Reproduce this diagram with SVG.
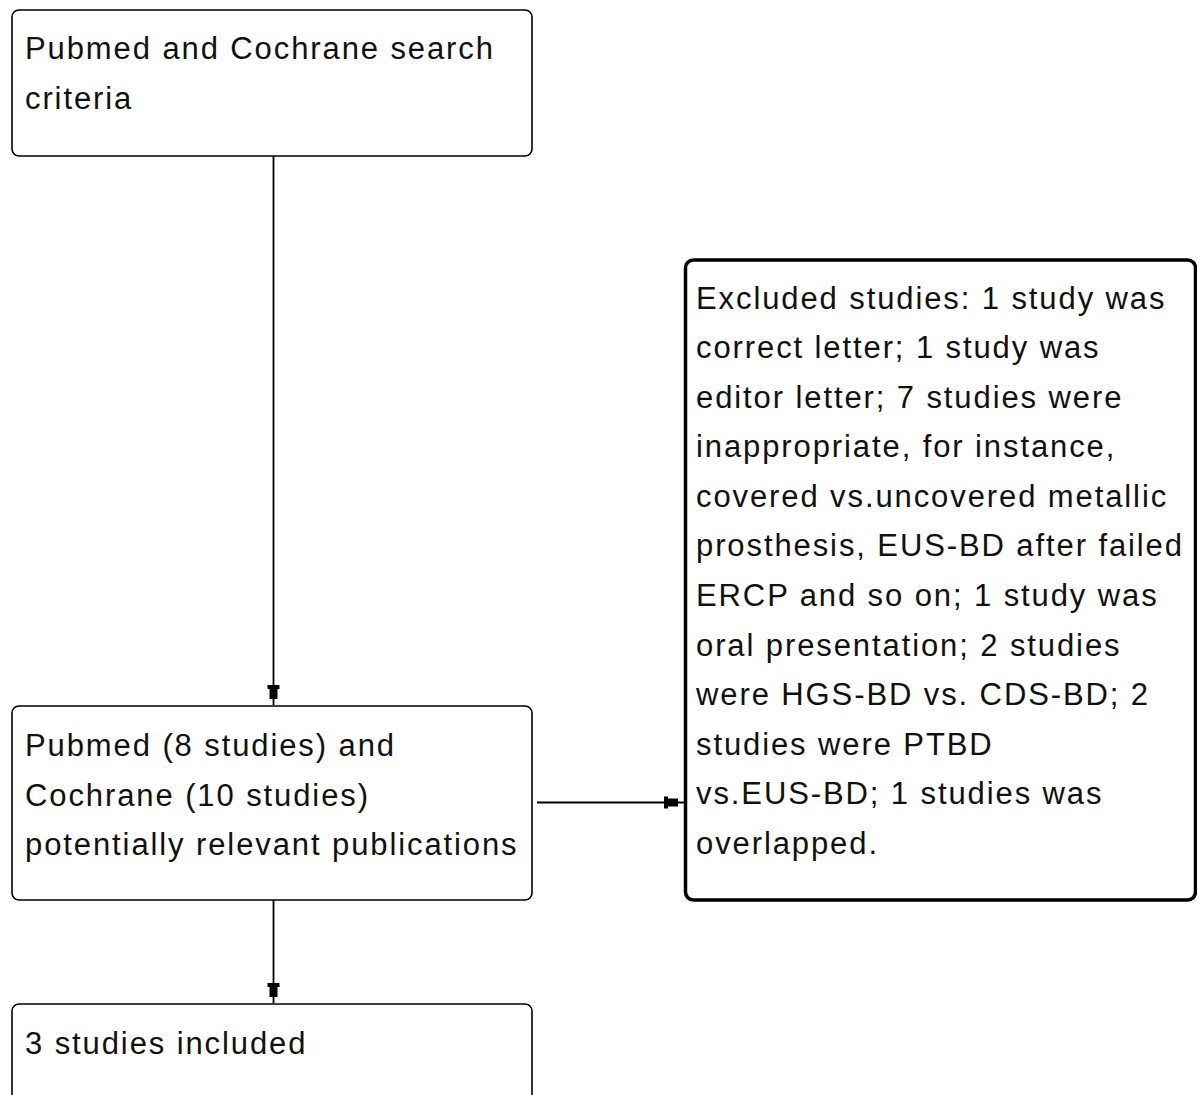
<svg xmlns="http://www.w3.org/2000/svg" width="1197" height="1095" viewBox="0 0 1197 1095">
<defs>
<marker id="arr" markerUnits="userSpaceOnUse" markerWidth="24" markerHeight="16" viewBox="-22 -8 24 16" refX="0" refY="0" orient="auto">
<path d="M-20,-6 L-16,-6 L-16,-4 L-6,-4 L-6,4 L-16,4 L-16,6 L-20,6 Z" fill="#000"/>
</marker>
<style>
.box{fill:#fff;stroke:#000;stroke-width:1.6}
.bold{fill:#fff;stroke:#000;stroke-width:3.5}
.t{font-family:"Liberation Sans",Arial,sans-serif;font-size:31px;letter-spacing:1.9px;fill:#111}
.c{stroke:#000;stroke-width:1.8;fill:none}
</style>
</defs>
<rect width="1197" height="1095" fill="#fff"/>
<g id="connectors">
<line class="c" x1="273.5" y1="156" x2="273.5" y2="705" marker-end="url(#arr)"/>
<line class="c" x1="273.5" y1="900" x2="273.5" y2="1003" marker-end="url(#arr)"/>
<line class="c" x1="537" y1="802.5" x2="684" y2="802.5" marker-end="url(#arr)"/>
</g>
<g id="search">
<rect class="box" x="12" y="10" width="520" height="146" rx="7"/>
<text class="t" x="25" y="59">Pubmed and Cochrane search</text>
<text class="t" x="25" y="109">criteria</text>
</g>
<g id="potential">
<rect class="box" x="12" y="706" width="520" height="194" rx="7"/>
<text class="t" x="25" y="756">Pubmed (8 studies) and</text>
<text class="t" x="25" y="806">Cochrane (10 studies)</text>
<text class="t" x="25" y="855">potentially relevant publications</text>
</g>
<g id="included">
<rect class="box" x="12" y="1004" width="520" height="120" rx="7"/>
<text class="t" x="25" y="1054">3 studies included</text>
</g>
<g id="excluded">
<rect class="bold" x="685.5" y="260" width="510" height="640" rx="8"/>
<text class="t" x="696" y="308.5">Excluded studies: 1 study was</text>
<text class="t" x="696" y="358">correct letter; 1 study was</text>
<text class="t" x="696" y="407.5">editor letter; 7 studies were</text>
<text class="t" x="696" y="457">inappropriate, for instance,</text>
<text class="t" x="696" y="506.5">covered vs.uncovered metallic</text>
<text class="t" x="696" y="556">prosthesis, EUS-BD after failed</text>
<text class="t" x="696" y="606">ERCP and so on; 1 study was</text>
<text class="t" x="696" y="655.5">oral presentation; 2 studies</text>
<text class="t" x="696" y="705">were HGS-BD vs. CDS-BD; 2</text>
<text class="t" x="696" y="754.5">studies were PTBD</text>
<text class="t" x="696" y="804">vs.EUS-BD; 1 studies was</text>
<text class="t" x="696" y="854">overlapped.</text>
</g>
</svg>
